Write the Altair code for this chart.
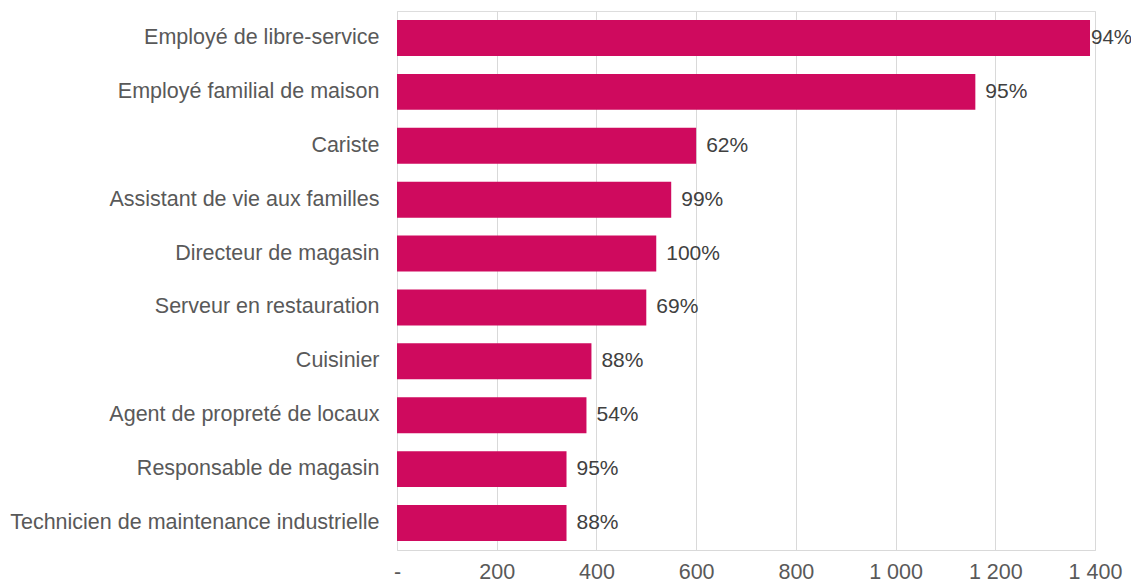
import altair as alt
import pandas as pd

categories = [
    "Employé de libre-service",
    "Employé familial de maison",
    "Cariste",
    "Assistant de vie aux familles",
    "Directeur de magasin",
    "Serveur en restauration",
    "Cuisinier",
    "Agent de propreté de locaux",
    "Responsable de magasin",
    "Technicien de maintenance industrielle",
]
values = [1390, 1160, 600, 550, 520, 500, 390, 380, 340, 340]
pct_labels = ["94%", "95%", "62%", "99%", "100%", "69%", "88%", "54%", "95%", "88%"]
x_ticks = [0, 200, 400, 600, 800, 1000, 1200, 1400]

df = pd.DataFrame({"cat": categories, "val": values, "pct": pct_labels})

FONT = "Liberation Sans"
BAR = "#CF0A5E"
GRID = "#D9D9D9"

y_enc = alt.Y(
    "cat:N",
    sort=categories,
    title=None,
    scale=alt.Scale(paddingInner=0.333, paddingOuter=0.167),
    axis=alt.Axis(
        domain=False, ticks=False, grid=False,
        labelFont=FONT, labelFontSize=21.5, labelColor="#595959",
        labelPadding=18, labelLimit=0,
    ),
)
x_enc = alt.X(
    "val:Q",
    title=None,
    scale=alt.Scale(domain=[0, 1400], nice=False),
    axis=alt.Axis(
        values=x_ticks, grid=True, gridColor=GRID, gridWidth=1,
        domain=True, domainColor=GRID, ticks=False,
        labelFont=FONT, labelFontSize=21.5, labelColor="#595959",
        labelPadding=11, labelFlush=False, labelOverlap=False,
        labelExpr="datum.value == 0 ? '-' : replace(format(datum.value, ','), ',', ' ')",
    ),
)

bars = alt.Chart(df).mark_bar(color=BAR).encode(x=x_enc, y=y_enc)

text_main = alt.Chart(df).transform_filter("datum.val < 1300").mark_text(
    align="left", baseline="middle", dx=10, font=FONT, fontSize=21, color="#404040"
).encode(x="val:Q", y=alt.Y("cat:N", sort=categories), text="pct:N")

text_top = alt.Chart(df).transform_filter("datum.val >= 1300").mark_text(
    align="left", baseline="middle", dx=1, font=FONT, fontSize=20.5, color="#404040"
).encode(x="val:Q", y=alt.Y("cat:N", sort=categories), text="pct:N")

chart = alt.layer(bars, text_main, text_top).properties(
    width=698,
    height=539,
    autosize=alt.AutoSizeParams(type="none"),
    padding={"left": 389, "top": 3, "right": 36, "bottom": 34},
).configure_view(stroke=None).configure(background="white")

chart.save("out.html", embed_options={"renderer": "svg", "actions": False})
